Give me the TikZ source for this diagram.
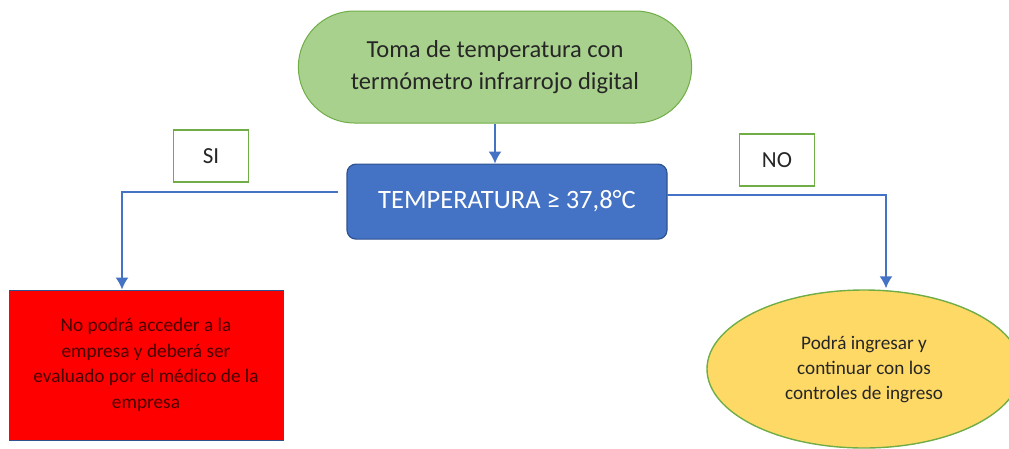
\documentclass[tikz,border=0pt]{standalone}
\usepackage{fontspec}
\setmainfont{Carlito}
\usepackage{tikz}
\usetikzlibrary{positioning}
\usetikzlibrary{shapes.geometric,shapes.misc,arrows.meta}
\definecolor{verdefondo}{HTML}{A9D18E}
\definecolor{verdeborde}{HTML}{70AD47}
\definecolor{azul}{HTML}{4472C4}
\definecolor{azuloscuro}{HTML}{2F528F}
\definecolor{amarillo}{HTML}{FFD966}
\definecolor{rojo}{HTML}{FF0000}
\definecolor{textorojo}{HTML}{4A0000}
\tikzset{
  inicio/.style={rounded rectangle, draw=verdeborde, fill=verdefondo, line width=1pt,
    minimum width=400pt, minimum height=112pt, align=center,
    font=\fontsize{24.5}{32}\selectfont, text=black!85},
  decision/.style={rectangle, rounded corners=9pt, draw=azuloscuro, fill=azul, line width=1.2pt,
    minimum width=320pt, minimum height=75pt, text=white, font=\fontsize{26.5}{30}\selectfont},
  etiqueta/.style={rectangle, draw=verdeborde, line width=1.6pt, minimum width=75pt,
    minimum height=52pt, font=\fontsize{23}{26}\selectfont, text=black!85},
  flecha/.style={draw=azul, line width=1.6pt, -{Latex[length=12pt,width=13pt]}}
}
\begin{document}
\begin{tikzpicture}[x=1pt, y=-1pt, node distance=41pt]
      \useasboundingbox (0,0) rectangle (1009,448);
      \node(toma) [inicio] at (495,67) {Toma de temperatura con\\termómetro infrarrojo digital};
      \node(temp) [decision, below=40pt of toma, xshift=12pt] {TEMPERATURA ≥ 37,8°C};
      \node(si) [etiqueta] at (211,156) {SI};
      \node(no) [etiqueta] at (777,160) {NO};
      \node(negado) [rectangle, draw=azuloscuro, fill=rojo, line width=1pt,
        minimum width=274pt, minimum height=150pt, align=center, text=textorojo,
        font=\fontsize{19.3}{25.5}\selectfont] at (146,365)
        {No podrá acceder a la\\empresa y deberá ser\\evaluado por el médico de la\\empresa};
      \node(ingreso) [ellipse, draw=verdeborde, fill=amarillo, line width=1.4pt, inner sep=0pt,
        minimum width=314pt, minimum height=158pt, align=center, text=black!85,
        font=\fontsize{19.2}{25}\selectfont] at (864,369)
        {Podrá ingresar y\\continuar con los\\controles de ingreso};

      \coordinate(salidaSi) at (338,192);
      \coordinate(salidaNo) at (667,195);

      \draw[flecha] (toma.south) -- (toma.south |- temp.north);
      \draw[flecha] (salidaSi) -| ([xshift=-24pt]negado.north);
      \draw[flecha] (salidaNo) -| ([xshift=22pt, yshift=1pt]ingreso.north);
    \end{tikzpicture}
\end{document}
